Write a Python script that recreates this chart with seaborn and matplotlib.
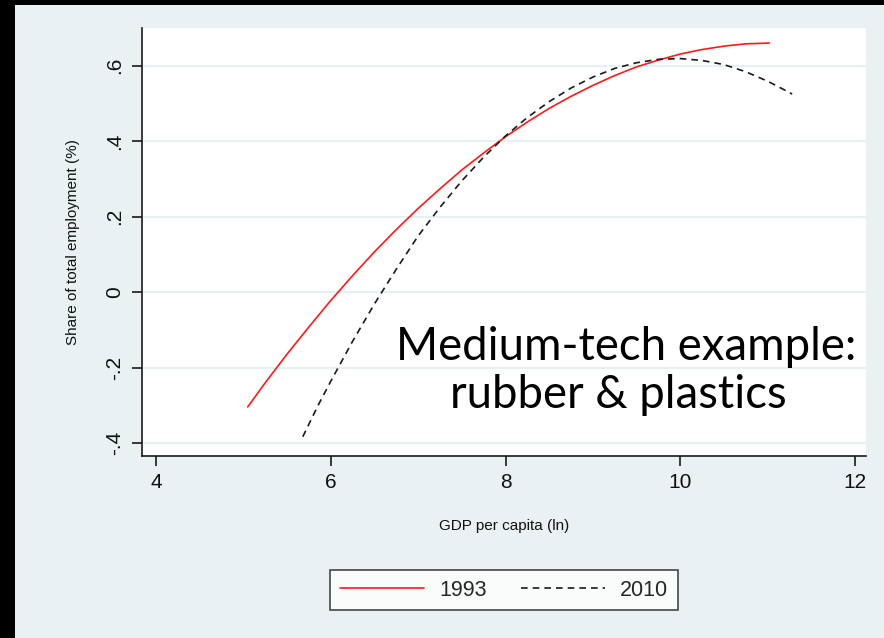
import numpy as np
import pandas as pd
import matplotlib
matplotlib.use("Agg")
import matplotlib.pyplot as plt
from matplotlib.lines import Line2D
from matplotlib.patches import Rectangle
import seaborn as sns

# ---- data ----
x_1993 = [5.05, 5.25, 5.5, 5.75, 6.0, 6.25, 6.5, 6.75, 7.0, 7.25, 7.5, 7.75, 8.0, 8.25,
          8.5, 8.75, 9.0, 9.25, 9.5, 9.75, 10.0, 10.25, 10.5, 10.75, 11.0, 11.02]
y_1993 = [-0.304, -0.240, -0.164, -0.092, -0.022, 0.044, 0.107, 0.166, 0.222, 0.274,
          0.324, 0.369, 0.412, 0.451, 0.487, 0.519, 0.548, 0.574, 0.597, 0.615,
          0.631, 0.643, 0.652, 0.658, 0.660, 0.660]
x_2010 = [5.68, 5.85, 6.0, 6.25, 6.5, 6.75, 7.0, 7.25, 7.5, 7.75, 8.0, 8.25, 8.5, 8.75,
          9.0, 9.25, 9.5, 9.75, 10.0, 10.25, 10.5, 10.75, 11.0, 11.15, 11.28]
y_2010 = [-0.383, -0.302, -0.236, -0.130, -0.031, 0.061, 0.149, 0.225, 0.295, 0.358,
          0.414, 0.463, 0.505, 0.541, 0.570, 0.593, 0.608, 0.617, 0.619, 0.614,
          0.603, 0.584, 0.559, 0.541, 0.525]
series = ["1993", "2010"]
x_ticks = [4, 6, 8, 10, 12]
y_ticks = [-0.4, -0.2, 0.0, 0.2, 0.4, 0.6]
y_tick_labels = ["-.4", "-.2", "0", ".2", ".4", ".6"]
x_label = "GDP per capita (ln)"
y_label = "Share of total employment (%)"
note_lines = ["Medium-tech example:", "rubber & plastics"]

df = pd.concat([
    pd.DataFrame({"gdp": x_1993, "share": y_1993, "year": series[0]}),
    pd.DataFrame({"gdp": x_2010, "share": y_2010, "year": series[1]}),
], ignore_index=True)

sns.set_theme(style="white")
plt.rcParams["font.family"] = ["Liberation Sans", "DejaVu Sans"]

BG = "#E9F1F3"
W, H = 884, 638
fig = plt.figure(figsize=(W / 100, H / 100), dpi=100, facecolor=BG)

# black frame at top/left like the screenshot
fig.patches.append(Rectangle((0, 1 - 5 / H), 1, 5 / H, transform=fig.transFigure,
                             facecolor="black", edgecolor="none", zorder=10))
fig.patches.append(Rectangle((0, 0), 15 / W, 1, transform=fig.transFigure,
                             facecolor="black", edgecolor="none", zorder=10))

ax = fig.add_axes([142 / W, 1 - 456 / H, (866 - 142) / W, (456 - 28) / H])
ax.set_facecolor("white")

palette = {"1993": "#FF1A1A", "2010": "#1A1A1A"}
dashes = {"1993": "", "2010": (4, 3)}
sns.lineplot(data=df, x="gdp", y="share", hue="year", style="year",
             palette=palette, dashes=dashes, sort=False, estimator=None,
             legend=False, ax=ax, linewidth=1.2)

ax.set_xlim(3.84, 12.125)
ax.set_ylim(-0.434, 0.70)
ax.set_xticks(x_ticks)
ax.set_xticklabels([str(t) for t in x_ticks], fontsize=15)
ax.set_yticks(y_ticks)
ax.set_yticklabels(y_tick_labels, fontsize=15, rotation=90, va="center")
for y in y_ticks:
    ax.axhline(y, color="#E3EDF1", lw=1.2, zorder=0)
ax.grid(False)

for s in ["top", "right"]:
    ax.spines[s].set_visible(False)
for s in ["left", "bottom"]:
    ax.spines[s].set_color("#1a1a1a")
    ax.spines[s].set_linewidth(1.2)
ax.tick_params(axis="both", direction="out", length=7, width=1.2, color="#1a1a1a",
               labelcolor="#111111", left=True, bottom=True)
ax.tick_params(axis="y", pad=6)
ax.tick_params(axis="x", pad=5)

ax.set_xlabel(x_label, fontsize=11, labelpad=20, color="#111111")
ax.set_ylabel(y_label, fontsize=11, labelpad=18, color="#111111")

# annotation
fig.text(626 / W, 1 - 360 / H, note_lines[0], ha="center", va="baseline",
         fontsize=32.8, family=["Lato", "DejaVu Sans"], color="black")
fig.text(618 / W, 1 - 408 / H, note_lines[1], ha="center", va="baseline",
         fontsize=32.8, family=["Lato", "DejaVu Sans"], color="black")

handles = [Line2D([], [], color=palette["1993"], lw=1.2),
           Line2D([], [], color=palette["2010"], lw=1.2, dashes=(4, 3))]
leg = fig.legend(handles, series, loc="center", bbox_to_anchor=(504 / W, 1 - 590 / H),
                 ncol=2, fontsize=15.5, frameon=True, fancybox=False,
                 handlelength=3.9, handletextpad=0.7, columnspacing=1.6,
                 borderpad=0.45)
leg.get_frame().set_edgecolor("#1a1a1a")
leg.get_frame().set_linewidth(1.2)
leg.get_frame().set_facecolor("white")

fig.savefig("out.png", dpi=100, facecolor=BG)
